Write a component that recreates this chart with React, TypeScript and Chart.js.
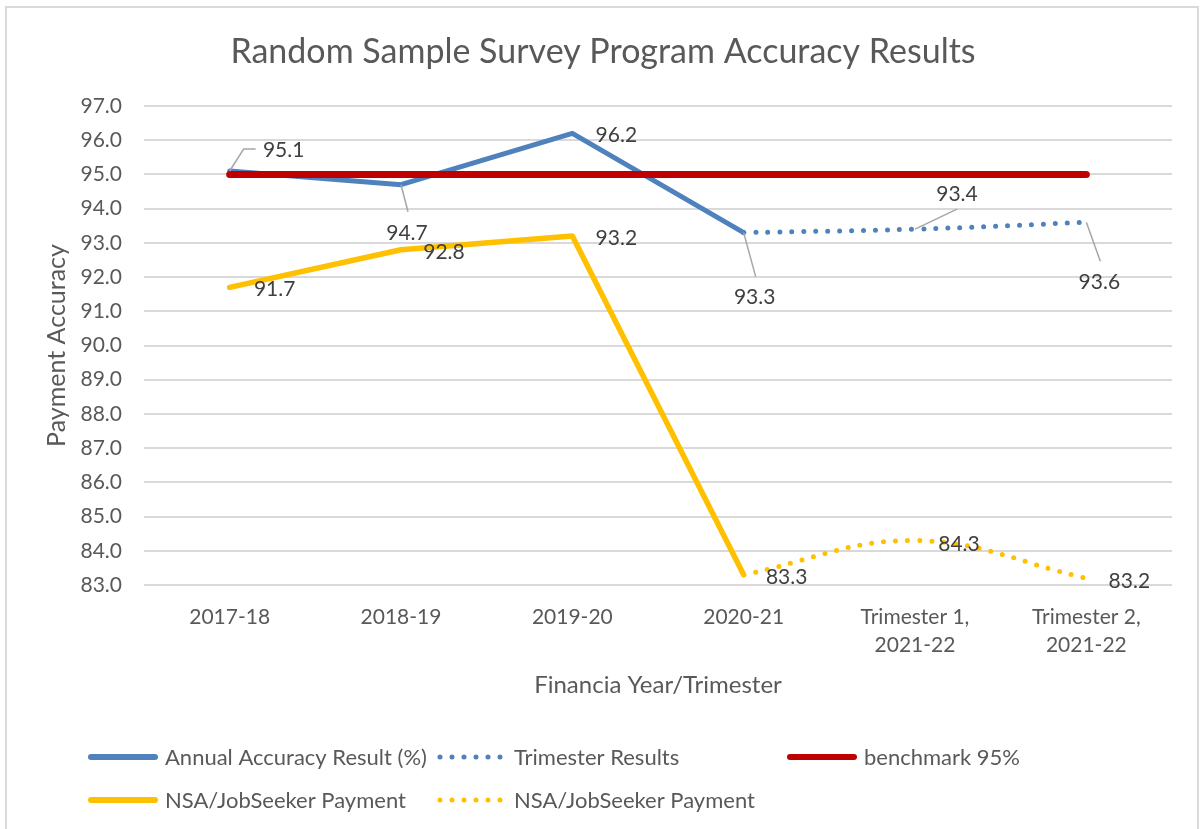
import React, { useEffect, useRef } from 'react';
import { Chart, registerables } from 'chart.js';

Chart.register(...registerables);

// ---------- data ----------
const categories: string[][] = [
  ['2017-18'],
  ['2018-19'],
  ['2019-20'],
  ['2020-21'],
  ['Trimester 1,', '2021-22'],
  ['Trimester 2,', '2021-22'],
];
const annualResult = [95.1, 94.7, 96.2, 93.3, null, null];
const trimesterResults = [null, null, null, 93.3, 93.4, 93.6];
const benchmark = [95, 95, 95, 95, 95, 95];
const nsaPayment = [91.7, 92.8, 93.2, 83.3, null, null];
const nsaTrimester = [null, null, null, 83.3, 84.3, 83.2];

const yMin = 83;
const yMax = 97;
const yStep = 1;

const seriesNames = [
  'Annual Accuracy Result (%)',
  'Trimester Results',
  'benchmark 95%',
  'NSA/JobSeeker Payment',
  'NSA/JobSeeker Payment',
];

const TITLE = 'Random Sample Survey Program Accuracy Results';
const Y_TITLE = 'Payment Accuracy';
const X_TITLE = 'Financia Year/Trimester';

// ---------- styles ----------
const FONT = 'Lato, "Noto Sans", sans-serif';
const BLUE = '#4F81BD';
const RED = '#C00000';
const YELLOW = '#FFC000';
const AXIS_TEXT = '#595959';
const LABEL_TEXT = '#404040';
const GRID = '#D9D9D9';

// data-label placement relative to the point (pixels), per dataset/index
type LabelStyle = { dx: number; dy: number; leader?: number[][] } | null;
const labelStyles: LabelStyle[][] = [
  [
    { dx: 54, dy: -22, leader: [[14, -22], [26, -22]] },
    { dx: 6, dy: 48, leader: [[7, 27]] },
    { dx: 44, dy: 1 },
    { dx: 11, dy: 64, leader: [[12, 44]] },
    null,
    null,
  ],
  [null, null, null, null, { dx: 42, dy: -36, leader: [[42, -20]] }, { dx: 13, dy: 59, leader: [[14, 39]] }],
  [null, null, null, null, null, null],
  [{ dx: 45, dy: 1 }, { dx: 43, dy: 2 }, { dx: 44, dy: 1 }, { dx: 43, dy: 2 }, null, null],
  [null, null, null, null, { dx: 44, dy: 3 }, { dx: 43, dy: 2 }],
];

// legend placement (sample start x, row centre y)
const legendSlots = [
  { x: 88, y: 757 },
  { x: 437, y: 757 },
  { x: 787, y: 757 },
  { x: 88, y: 800 },
  { x: 437, y: 800 },
];

const framePlugin = {
  id: 'frame',
  beforeDraw(chart: any) {
    const { ctx, width, height } = chart;
    ctx.save();
    ctx.fillStyle = '#ffffff';
    ctx.fillRect(0, 0, width, height);
    ctx.strokeStyle = GRID;
    ctx.lineWidth = 2;
    ctx.strokeRect(6, 7, 1192, height + 10);
    ctx.fillStyle = AXIS_TEXT;
    ctx.font = `34px ${FONT}`;
    ctx.textAlign = 'center';
    ctx.textBaseline = 'alphabetic';
    ctx.fillText(TITLE, 603, 63);
    ctx.restore();
  },
};

const labelsPlugin = {
  id: 'dataLabels',
  afterDatasetsDraw(chart: any) {
    const { ctx } = chart;
    ctx.save();
    chart.data.datasets.forEach((ds: any, di: number) => {
      const meta = chart.getDatasetMeta(di);
      const styles = labelStyles[di] || [];
      ds.data.forEach((v: number | null, i: number) => {
        const st = styles[i];
        if (v === null || v === undefined || !st) return;
        const pt = meta.data[i];
        if (!pt) return;
        const px = pt.x;
        const py = pt.y;
        if (st.leader) {
          ctx.beginPath();
          ctx.strokeStyle = '#A6A6A6';
          ctx.lineWidth = 1.5;
          ctx.moveTo(px, py);
          st.leader.forEach((p) => ctx.lineTo(px + p[0], py + p[1]));
          ctx.stroke();
        }
        ctx.fillStyle = LABEL_TEXT;
        ctx.font = `21px ${FONT}`;
        ctx.textAlign = 'center';
        ctx.textBaseline = 'alphabetic';
        ctx.fillText(Number(v).toFixed(1), px + st.dx, py + st.dy + 7.5);
      });
    });
    ctx.restore();
  },
};

const legendPlugin = {
  id: 'customLegend',
  afterDraw(chart: any) {
    const { ctx } = chart;
    ctx.save();
    chart.data.datasets.forEach((ds: any, di: number) => {
      const slot = legendSlots[di];
      if (!slot) return;
      ctx.beginPath();
      ctx.strokeStyle = ds.borderColor;
      ctx.lineCap = 'round';
      if (ds.borderDash && ds.borderDash.length) {
        ctx.setLineDash([0, 12]);
        ctx.lineWidth = 5;
      } else {
        ctx.setLineDash([]);
        ctx.lineWidth = 6;
      }
      ctx.moveTo(slot.x + 3, slot.y);
      ctx.lineTo(slot.x + 67, slot.y);
      ctx.stroke();
      ctx.setLineDash([]);
      ctx.fillStyle = AXIS_TEXT;
      ctx.font = `22px ${FONT}`;
      ctx.textAlign = 'left';
      ctx.textBaseline = 'alphabetic';
      ctx.fillText(ds.label, slot.x + 77, slot.y + 8);
    });
    ctx.restore();
  },
};

export default function App() {
  const ref = useRef<HTMLCanvasElement>(null);

  useEffect(() => {
    document.body.style.margin = '0';
    const canvas = ref.current;
    if (!canvas) return;
    const dotted = { borderDash: [0, 12], borderCapStyle: 'round', borderWidth: 5, tension: 0.4 };
    const chart = new Chart(canvas, {
      type: 'line',
      data: {
        labels: categories,
        datasets: [
          {
            label: seriesNames[0],
            data: annualResult,
            borderColor: BLUE,
            borderWidth: 5,
            borderCapStyle: 'round',
            borderJoinStyle: 'round',
            pointRadius: 0,
            order: 1,
          },
          {
            label: seriesNames[1],
            data: trimesterResults,
            borderColor: BLUE,
            ...dotted,
            pointRadius: 0,
            order: 1,
          },
          {
            label: seriesNames[2],
            data: benchmark,
            borderColor: RED,
            borderWidth: 7,
            borderCapStyle: 'round',
            pointRadius: 0,
            order: 0,
          },
          {
            label: seriesNames[3],
            data: nsaPayment,
            borderColor: YELLOW,
            borderWidth: 5.5,
            borderCapStyle: 'round',
            borderJoinStyle: 'round',
            pointRadius: 0,
            order: 1,
          },
          {
            label: seriesNames[4],
            data: nsaTrimester,
            borderColor: YELLOW,
            ...dotted,
            pointRadius: 0,
            order: 1,
          },
        ] as any,
      },
      options: {
        responsive: false,
        animation: false,
        layout: { padding: { left: 40, right: 28, top: 106, bottom: 114 } },
        plugins: {
          legend: { display: false },
          title: { display: false },
          tooltip: { enabled: false },
        },
        scales: {
          x: {
            offset: true,
            grid: { display: false, drawTicks: false },
            border: { display: false },
            ticks: {
              color: AXIS_TEXT,
              font: { family: FONT, size: 21, lineHeight: 1.33 },
              padding: 18,
              maxRotation: 0,
              autoSkip: false,
            },
            title: {
              display: true,
              text: X_TITLE,
              color: AXIS_TEXT,
              font: { family: FONT, size: 24 },
              padding: { top: 0, bottom: 15 },
            },
            afterFit: (s: any) => {
              s.height = 130;
            },
          },
          y: {
            min: yMin,
            max: yMax,
            ticks: {
              stepSize: yStep,
              color: AXIS_TEXT,
              font: { family: FONT, size: 21 },
              padding: 22,
              callback: (v: any) => Number(v).toFixed(1),
            },
            grid: { color: GRID, lineWidth: 2, drawTicks: false },
            border: { display: false },
            title: {
              display: true,
              text: Y_TITLE,
              color: AXIS_TEXT,
              font: { family: FONT, size: 25 },
              padding: { top: 2, bottom: 0 },
            },
            afterFit: (s: any) => {
              s.width = 104;
            },
          },
        },
      } as any,
      plugins: [framePlugin, labelsPlugin, legendPlugin],
    });
    return () => chart.destroy();
  }, []);

  return (
    <div style={{ position: 'absolute', left: 0, top: 0, width: 1200, height: 829, background: '#fff' }}>
      <canvas ref={ref} width={1200} height={829} style={{ display: 'block', width: 1200, height: 829 }} />
    </div>
  );
}
